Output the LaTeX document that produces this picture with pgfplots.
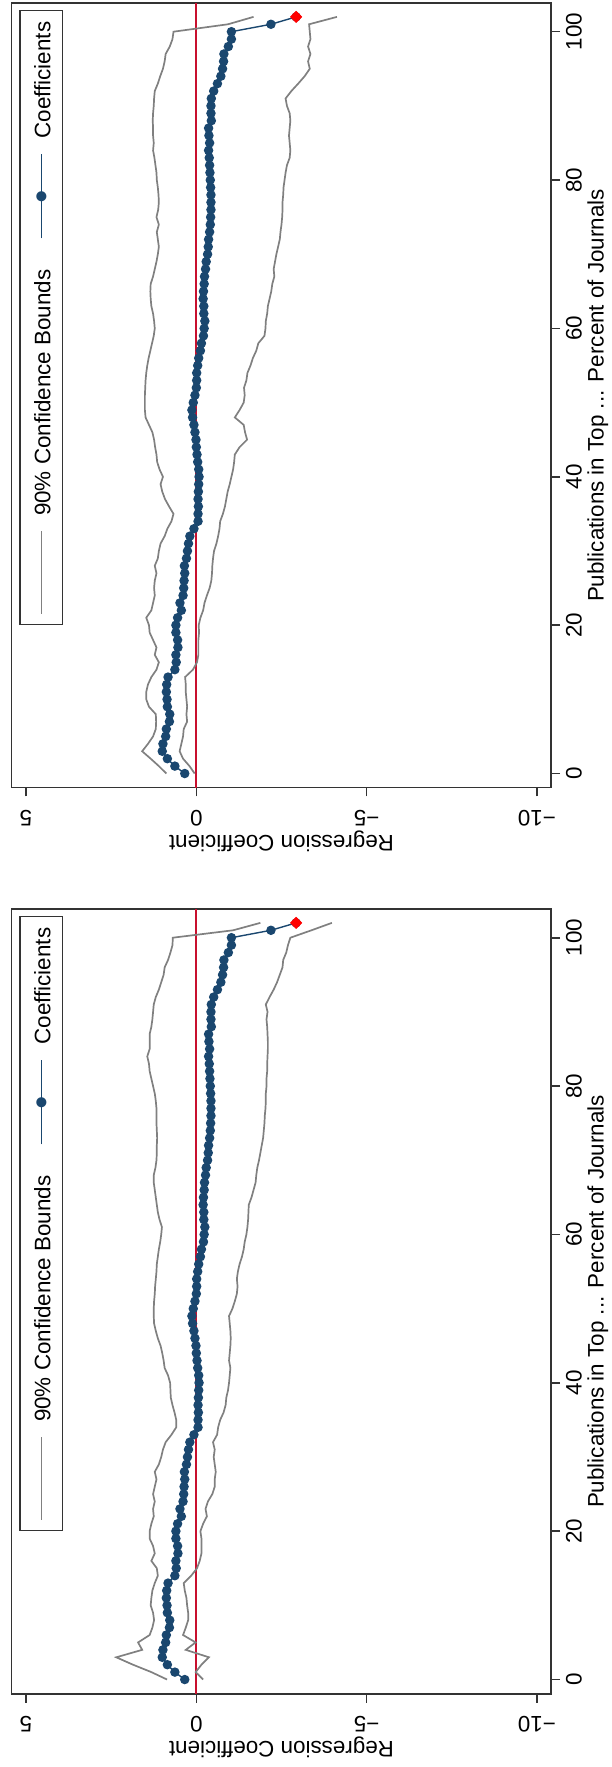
\documentclass[border=0pt]{standalone}
\usepackage{fontspec}
\setmainfont{Liberation Sans}
\newfontfamily\symfont{DejaVu Sans}
\usepackage{pgfplots}
\usepackage{pgfplotstable}
\pgfplotsset{compat=1.18}
\definecolor{stnavy}{RGB}{26,71,111}
\definecolor{stred}{RGB}{200,16,46}
\definecolor{stgray}{RGB}{128,128,128}
\pgfplotstableread{
p c u1 l1 u2 l2
0 0.34 0.88 0.05 0.86 -0.20
1 0.63 1.10 0.20 1.32 0.02
2 0.85 1.34 0.39 1.86 -0.15
3 1.00 1.59 0.49 2.35 -0.37
4 0.98 1.42 0.44 1.59 0.31
5 0.90 1.27 0.39 1.71 0.02
6 0.88 1.19 0.37 1.37 0.39
7 0.79 1.18 0.27 1.29 0.31
8 0.78 1.19 0.29 1.24 0.24
9 0.85 1.39 0.27 1.27 0.24
10 0.86 1.47 0.29 1.34 0.27
11 0.88 1.47 0.31 1.32 0.29
12 0.87 1.42 0.31 1.29 0.34
13 0.83 1.32 0.33 1.22 0.37
14 0.63 1.17 0.10 1.13 0.15
15 0.59 1.10 -0.02 1.16 -0.02
16 0.60 1.22 -0.06 1.32 -0.10
17 0.54 1.17 -0.06 1.22 -0.15
18 0.55 1.27 -0.06 1.27 -0.15
19 0.60 1.37 -0.08 1.37 -0.15
20 0.60 1.39 -0.07 1.37 -0.12
21 0.55 1.47 -0.12 1.32 -0.20
22 0.44 1.32 -0.20 1.25 -0.31
23 0.48 1.27 -0.24 1.27 -0.27
24 0.39 1.22 -0.31 1.22 -0.34
25 0.37 1.24 -0.39 1.27 -0.47
26 0.36 1.22 -0.44 1.22 -0.54
27 0.34 1.17 -0.46 1.17 -0.54
28 0.35 1.22 -0.47 1.22 -0.57
29 0.29 1.13 -0.49 1.10 -0.54
30 0.26 1.10 -0.52 1.03 -0.51
31 0.23 1.05 -0.59 0.98 -0.54
32 0.19 0.93 -0.64 0.90 -0.49
33 0.07 0.85 -0.68 0.73 -0.61
34 -0.05 0.73 -0.70 0.59 -0.64
35 -0.05 0.67 -0.78 0.59 -0.70
36 -0.06 0.80 -0.84 0.64 -0.80
37 -0.05 0.92 -0.88 0.70 -0.86
38 -0.06 1.00 -0.92 0.75 -0.88
39 -0.07 1.05 -0.98 0.76 -0.93
40 -0.08 0.98 -1.03 0.77 -0.96
41 -0.07 1.08 -1.08 0.83 -0.98
42 -0.04 1.15 -1.11 0.93 -1.00
43 -0.02 1.17 -1.13 0.96 -0.96
44 0.00 1.21 -1.27 1.00 -0.98
45 0.01 1.24 -1.49 1.05 -1.00
46 0.04 1.29 -1.43 1.13 -1.01
47 0.07 1.39 -1.39 1.19 -1.00
48 0.11 1.49 -1.13 1.24 -0.98
49 0.13 1.51 -1.27 1.25 -0.96
50 0.09 1.51 -1.39 1.25 -1.06
51 0.04 1.51 -1.42 1.24 -1.13
52 0.00 1.50 -1.40 1.22 -1.19
53 -0.01 1.49 -1.47 1.21 -1.21
54 -0.01 1.47 -1.50 1.19 -1.19
55 -0.04 1.44 -1.59 1.17 -1.22
56 -0.07 1.40 -1.66 1.16 -1.27
57 -0.12 1.35 -1.76 1.13 -1.34
58 -0.15 1.30 -1.82 1.10 -1.39
59 -0.21 1.25 -2.00 1.06 -1.42
60 -0.23 1.22 -2.03 1.03 -1.47
61 -0.25 1.24 -2.04 1.01 -1.50
62 -0.22 1.27 -2.08 1.08 -1.52
63 -0.22 1.32 -2.10 1.13 -1.53
64 -0.20 1.34 -2.15 1.16 -1.54
65 -0.21 1.35 -2.20 1.19 -1.62
66 -0.23 1.34 -2.23 1.22 -1.68
67 -0.24 1.27 -2.29 1.25 -1.74
68 -0.27 1.22 -2.27 1.25 -1.76
69 -0.29 1.17 -2.31 1.20 -1.79
70 -0.33 1.13 -2.35 1.17 -1.84
71 -0.35 1.10 -2.40 1.16 -1.88
72 -0.36 1.13 -2.45 1.16 -1.92
73 -0.39 1.16 -2.47 1.15 -1.96
74 -0.41 1.10 -2.50 1.16 -1.98
75 -0.42 1.17 -2.52 1.17 -2.00
76 -0.43 1.12 -2.53 1.17 -2.01
77 -0.43 1.10 -2.53 1.17 -2.03
78 -0.43 1.11 -2.55 1.19 -2.04
79 -0.42 1.13 -2.56 1.22 -2.04
80 -0.41 1.16 -2.59 1.27 -2.06
81 -0.40 1.17 -2.62 1.32 -2.06
82 -0.39 1.20 -2.66 1.37 -2.08
83 -0.38 1.23 -2.74 1.39 -2.08
84 -0.36 1.27 -2.76 1.44 -2.09
85 -0.39 1.25 -2.74 1.37 -2.10
86 -0.37 1.27 -2.72 1.37 -2.10
87 -0.36 1.27 -2.74 1.37 -2.09
88 -0.44 1.28 -2.76 1.32 -2.08
89 -0.43 1.27 -2.74 1.29 -2.06
90 -0.43 1.25 -2.66 1.27 -2.09
91 -0.44 1.24 -2.62 1.25 -2.04
92 -0.51 1.22 -2.79 1.19 -2.15
93 -0.62 1.13 -2.99 1.10 -2.27
94 -0.72 1.06 -3.18 1.03 -2.37
95 -0.77 0.98 -3.33 0.96 -2.45
96 -0.80 0.93 -3.28 0.93 -2.53
97 -0.81 0.90 -3.35 0.83 -2.55
98 -0.94 0.78 -3.28 0.76 -2.64
99 -1.03 0.70 -3.35 0.70 -2.69
100 -1.03 0.67 -3.33 0.69 -2.76
101 -2.19 -0.93 -3.31 -1.08 -3.38
102 -2.93 -1.68 -4.13 -1.88 -3.98
}\datatab

\newcommand{\chartfont}{\fontsize{11.2}{13.4}\selectfont}
\newcommand{\legendbox}{%
  {\color{stgray}\rule[4.1pt]{41.5pt}{0.8pt}}\hspace{7.3pt}%
  90\% Confidence Bounds\hspace{15.5pt}%
  \rlap{\color{stnavy}\rule[4.15pt]{42pt}{0.7pt}}%
  \makebox[42pt][c]{\raisebox{1.7pt}{$\vcenter{\hbox{\symfont\fontsize{6.6}{6.6}\selectfont\color{stnavy}●}}$}}%
  \hspace{8pt}Coefficients}
\pgfplotsset{
  panel/.style={
    scale only axis, width=269.8pt, height=392.2pt,
    x dir=reverse, xmin=-10.42, xmax=5.42, ymin=-1.91, ymax=103.83,
    xtick={5,0,-5,-10}, xticklabels={5,0,−5,−10},
    ytick={0,20,40,60,80,100}, yticklabels={0,20,40,60,80,100},
    xtick pos=left, ytick pos=right, yticklabel pos=right,
    minor tick num=0,
    tick align=outside, major tick length=4.4pt,
    axis line style={black!80, line width=0.8pt},
    every tick/.style={black!80, line width=0.8pt},
    every tick label/.append style={font=\chartfont, inner sep=0pt},
    xticklabel style={rotate=180, anchor=south},
    yticklabel style={rotate=90, anchor=north},
    xticklabel shift=6.5pt,
    yticklabel shift=2.8pt,
    every axis x label/.style={at={(axis description cs:0.5,-0.0686)}, anchor=center, rotate=180, font=\chartfont},
    every axis y label/.style={at={(axis description cs:1.0862,0.5)}, anchor=center, rotate=90, font=\chartfont},
    xlabel={Regression Coefficient},
    ylabel={Publications in Top ... Percent of Journals},
  },
  ci/.style={stgray, line width=0.85pt},
  coef/.style={stnavy, line width=0.7pt, mark=*, mark size=2pt, mark options={fill=stnavy, draw=stnavy}},
  best/.style={red, only marks, mark=square*, mark size=1.95pt, mark options={rotate=45, fill=red, draw=red}},
  zero/.style={stred, line width=0.9pt},
}
\tikzset{legendnode/.style={rotate=90, anchor=north east, draw=black!80, line width=0.6pt,
    font=\chartfont, inner xsep=5.6pt, inner ysep=6.2pt, text height=9pt, text depth=0pt}}

\begin{document}
\begin{tikzpicture}
\useasboundingbox (0,0) rectangle (305.5pt,883.5pt);
% top panel
\begin{axis}[panel, at={(5.85pt,489.65pt)}, anchor=south west]
\addplot[zero] coordinates {(0,-1.91) (0,103.83)};
\addplot[ci] table[x=u1, y=p]{\datatab};
\addplot[ci] table[x=l1, y=p]{\datatab};
\addplot[coef] table[x=c, y=p]{\datatab};
\addplot[best] coordinates {(-2.93,102)};
\node[legendnode] at (axis description cs:0.0143,0.9915) {\legendbox};
\end{axis}
% bottom panel
\begin{axis}[panel, at={(5.85pt,36.65pt)}, anchor=south west]
\addplot[zero] coordinates {(0,-1.91) (0,103.83)};
\addplot[ci] table[x=u2, y=p]{\datatab};
\addplot[ci] table[x=l2, y=p]{\datatab};
\addplot[coef] table[x=c, y=p]{\datatab};
\addplot[best] coordinates {(-2.93,102)};
\node[legendnode] at (axis description cs:0.0143,0.9915) {\legendbox};
\end{axis}
\end{tikzpicture}
\end{document}
